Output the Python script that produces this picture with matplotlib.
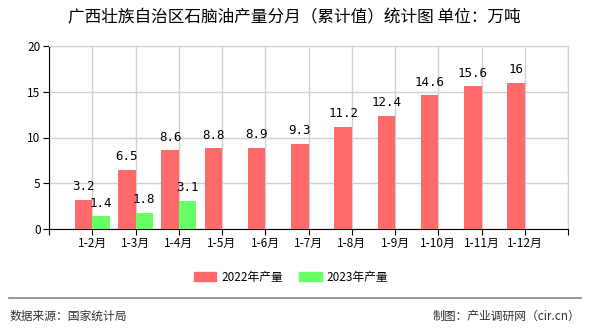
import matplotlib
matplotlib.use("Agg")
import matplotlib.pyplot as plt
from matplotlib.lines import Line2D

plt.rcParams['font.family'] = ['Noto Sans CJK SC', 'DejaVu Sans']

months = ["1-2月", "1-3月", "1-4月", "1-5月", "1-6月", "1-7月",
          "1-8月", "1-9月", "1-10月", "1-11月", "1-12月"]
output_2022 = [3.2, 6.5, 8.6, 8.8, 8.9, 9.3, 11.2, 12.4, 14.6, 15.6, 16]
output_2023 = [1.4, 1.8, 3.1]

RED = "#ff6a6a"
GREEN = "#66ff66"
GRID = "#d0d0d0"

fig = plt.figure(figsize=(5.9, 3.3), dpi=100)
ax = fig.add_axes([49 / 590, 1 - 229 / 330, (568 - 49) / 590, (229 - 46) / 330])

xs = list(range(1, len(months) + 1))
w = 0.4
ax.bar([x - w / 2 for x in xs], output_2022, width=w, color=RED, zorder=3)
ax.bar([x + w / 2 for x in xs[:len(output_2023)]], output_2023, width=w,
       color=GREEN, zorder=3)

for x, v in zip(xs, output_2022):
    ax.text(x - w / 2, v + 0.7, f"{v:g}", ha="center", va="bottom",
            fontsize=9, family="DejaVu Sans Mono", zorder=4)
for x, v in zip(xs, output_2023):
    ax.text(x + w / 2, v + 0.7, f"{v:g}", ha="center", va="bottom",
            fontsize=9, family="DejaVu Sans Mono", zorder=4)

ax.set_xlim(0, 12)
ax.set_ylim(0, 20)
ax.set_yticks([0, 5, 10, 15, 20])
ax.set_xticks(range(0, 13))
ax.set_xticklabels([""] + months + [""])
ax.tick_params(axis="x", length=4, labelsize=8.5, pad=2)
ax.tick_params(axis="y", length=4, labelsize=8.5, pad=2)
ax.grid(True, color=GRID, linewidth=1, zorder=0)
for side in ["top", "right"]:
    ax.spines[side].set_color(GRID)
for side in ["left", "bottom"]:
    ax.spines[side].set_color("black")

fig.text(294 / 590, 1 - 18 / 330, "广西壮族自治区石脑油产量分月（累计值）统计图 单位：万吨",
         ha="center", va="center", fontsize=12)

# legend
handles = [plt.Rectangle((0, 0), 1, 1, color=RED),
           plt.Rectangle((0, 0), 1, 1, color=GREEN)]
fig.legend(handles, ["2022年产量", "2023年产量"], loc="center",
           bbox_to_anchor=(291 / 590, 1 - 277 / 330), ncol=2, frameon=False,
           fontsize=8.5, handlelength=1.9, handleheight=0.8, columnspacing=1.4,
           handletextpad=0.4)

fig.add_artist(Line2D([9 / 590, 581 / 590], [1 - 298 / 330] * 2,
                      color="#888888", linewidth=1.2))
fig.text(10 / 590, 1 - 316 / 330, "数据来源：国家统计局", ha="left",
         va="center", fontsize=8.5, color="#333333")
fig.text(580 / 590, 1 - 316 / 330, "制图：产业调研网（cir.cn）", ha="right",
         va="center", fontsize=8.5, color="#333333")

fig.savefig("out.png", dpi=100)
